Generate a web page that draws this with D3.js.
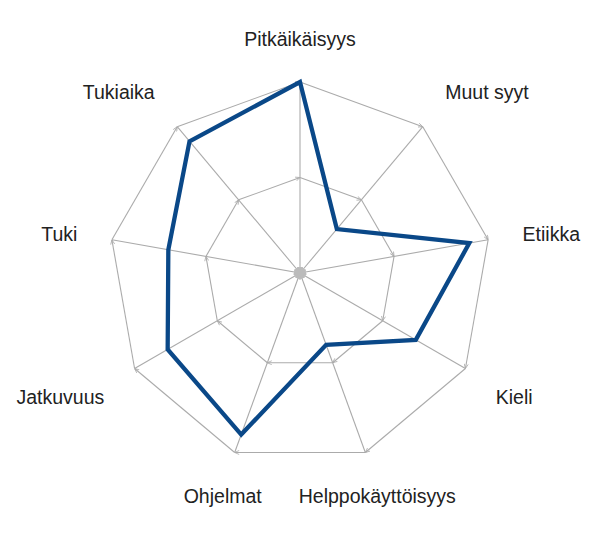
<!DOCTYPE html>
<html>
<head>
<meta charset="utf-8">
<script src="https://cdn.jsdelivr.net/npm/d3@7"></script>
<style>
  body { margin: 0; background: #fff; }
  text { font-family: "Liberation Sans", Arial, sans-serif; }
</style>
</head>
<body>
<svg id="radar" width="600" height="546"></svg>
<script>
var labels = ["Pitkäikäisyys", "Muut syyt", "Etiikka", "Kieli", "Helppokäyttöisyys",
              "Ohjelmat", "Jatkuvuus", "Tuki", "Tukiaika"]
var values = [10, 3, 9, 7, 4, 9, 8, 7, 9]
var rings = [5, 10]

var main = function() {

    var cx = 300, cy = 273
    var radius = 191
    var labelGap = 35
    var gridColor = "#ababab"

    var svg = d3.select("#radar")

    var r = d3.scaleLinear()
              .domain([0, 10])
              .range([0, radius])

    var angle = d3.scaleLinear()
                  .domain([0, labels.length])
                  .range([0, 2 * Math.PI])

    function px(i, d) { return cx + r(d) * Math.sin(angle(i)) }
    function py(i, d) { return cy - r(d) * Math.cos(angle(i)) }

    // little arrow heads, the grid in the original has them at every vertex
    var defs = svg.append("defs")
    defs.append("marker")
        .attr("id", "chev")
        .attr("viewBox", "0 0 10 10")
        .attr("refX", 10).attr("refY", 5)
        .attr("markerWidth", 5).attr("markerHeight", 5)
        .attr("markerUnits", "userSpaceOnUse")
        .attr("orient", "auto")
      .append("path")
        .attr("d", "M1,1 L10,5 L1,9")
        .attr("fill", "none")
        .attr("stroke", gridColor)
        .attr("stroke-width", 1.6)
    defs.append("marker")
        .attr("id", "tri")
        .attr("viewBox", "0 0 10 10")
        .attr("refX", 10).attr("refY", 5)
        .attr("markerWidth", 7).attr("markerHeight", 6)
        .attr("markerUnits", "userSpaceOnUse")
        .attr("orient", "auto")
      .append("path")
        .attr("d", "M0,0 L10,5 L0,10 Z")
        .attr("fill", "#bbbbbb")

    var grid = svg.append("g").attr("class", "grid")

    // rings, drawn segment by segment
    rings.forEach(function(t) {
        grid.selectAll(null)
            .data(d3.range(labels.length))
          .enter().append("line")
            .attr("x1", function(i) { return px(i, t) })
            .attr("y1", function(i) { return py(i, t) })
            .attr("x2", function(i) { return px((i + 1) % labels.length, t) })
            .attr("y2", function(i) { return py((i + 1) % labels.length, t) })
            .attr("stroke", gridColor)
            .attr("stroke-width", 1.1)
            .attr("marker-end", "url(#chev)")
    })

    // spokes, outer end to centre
    grid.selectAll(".spoke")
        .data(d3.range(labels.length))
      .enter().append("line")
        .attr("class", "spoke")
        .attr("x1", function(i) { return px(i, 10) })
        .attr("y1", function(i) { return py(i, 10) })
        .attr("x2", cx)
        .attr("y2", cy)
        .attr("stroke", gridColor)
        .attr("stroke-width", 1.1)
        .attr("marker-end", "url(#tri)")

    grid.append("circle")
        .attr("cx", cx).attr("cy", cy)
        .attr("r", 3.5)
        .attr("fill", "#bbbbbb")

    // data polygon
    var line = d3.line()
                 .x(function(d, i) { return px(i, d) })
                 .y(function(d, i) { return py(i, d) })
                 .curve(d3.curveLinearClosed)

    svg.append("path")
        .datum(values)
        .attr("d", line)
        .attr("fill", "none")
        .attr("stroke", "#0a4888")
        .attr("stroke-width", 4.3)
        .attr("stroke-linejoin", "miter")

    // axis names
    var lr = d3.scaleLinear().domain([0, 10]).range([0, radius + labelGap])

    svg.append("g").selectAll("text")
        .data(labels)
      .enter().append("text")
        .attr("x", function(d, i) { return cx + lr(10) * Math.sin(angle(i)) })
        .attr("y", function(d, i) { return cy - lr(10) * Math.cos(angle(i)) })
        .attr("dy", function(d, i) {
            var c = Math.cos(angle(i))
            if (c > 0.3) return "-0.07em"
            if (c < -0.3) return "0.92em"
            return "0.36em"
        })
        .attr("text-anchor", function(d, i) {
            var s = Math.sin(angle(i))
            if (Math.abs(s) < 0.5) return "middle"
            return s > 0 ? "start" : "end"
        })
        .attr("font-size", "19.5px")
        .attr("fill", "#222")
        .text(function(d) { return d })
}

main()
</script>
</body>
</html>
